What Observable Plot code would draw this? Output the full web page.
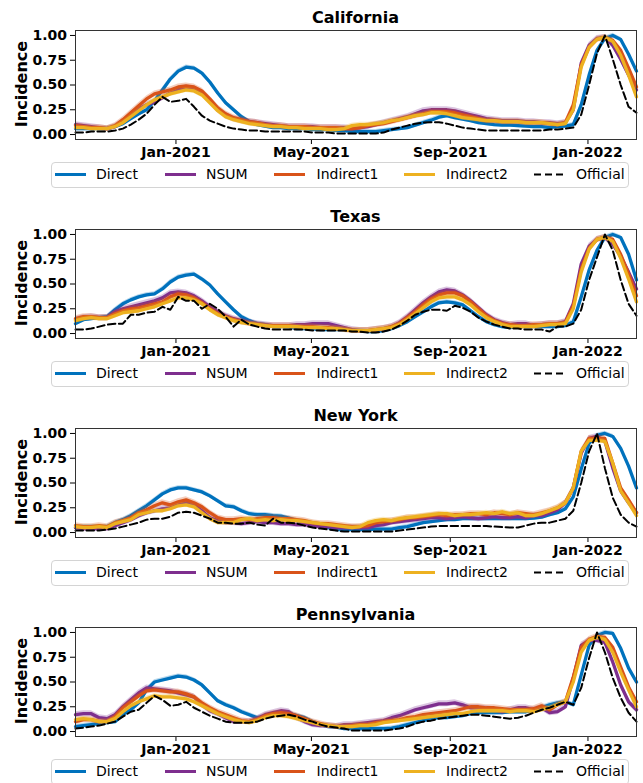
<!DOCTYPE html>
<html><head><meta charset="utf-8">
<script src="https://cdn.jsdelivr.net/npm/d3@7"></script>
<script src="https://cdn.jsdelivr.net/npm/@observablehq/plot@0.6"></script>
<style>
body{margin:0;background:#fff;font-family:"DejaVu Sans",sans-serif;}
#root{position:relative;width:643px;height:783px;overflow:hidden;background:#fff;}
.panel{position:absolute;left:0;width:643px;height:199px;}
.panel svg.plot{position:absolute;left:0;top:0;}
.title{position:absolute;left:75px;width:561px;text-align:center;font-weight:bold;font-size:16px;top:8px;line-height:20px;color:#000;}
.ylab{position:absolute;left:21px;top:84px;font-weight:bold;font-size:16px;color:#000;transform:translate(-50%,-50%) rotate(-90deg);white-space:nowrap;}
.legbox{position:absolute;left:51px;top:162px;width:576px;height:24px;border:1px solid #d4d4d4;border-radius:4px;background:#fff;}
svg.leg{position:absolute;left:0;top:0;}
</style>
</head><body><div id="root"></div>
<script>
// weekly sampling, first week starting 2020-10-04, 72 weeks
const START = "2020-10-04";
const N_WEEKS = 72;
const xTicks = ["2021-01-01","2021-05-01","2021-09-01","2022-01-01"];
const yTicks = [0, 0.25, 0.5, 0.75, 1];
const states = ["California","Texas","New York","Pennsylvania"];
const seriesNames = ["Direct","NSUM","Indirect1","Indirect2","Official"];
const colors = {Direct:"#0072BD", NSUM:"#7E2F8E", Indirect1:"#D95319", Indirect2:"#EDB120", Official:"#000000"};

// California
const CA_direct = [0.06,0.06,0.06,0.06,0.06,0.08,0.11,0.16, 0.21,0.25,0.34,0.45,0.56,0.64,0.68,0.67, 0.62,0.53,0.42,0.32,0.25,0.18,0.13,0.10, 0.085,0.07,0.07,0.06,0.06,0.06,0.05,0.05, 0.05,0.04,0.04,0.03,0.03,0.03,0.03,0.04, 0.05,0.06,0.07,0.095,0.12,0.145,0.175,0.19, 0.17,0.155,0.14,0.12,0.11,0.10,0.095,0.095, 0.09,0.085,0.08,0.08,0.07,0.08,0.085,0.10, 0.30,0.60,0.85,0.97,1.00,0.96,0.81,0.64];
const CA_nsum = [0.10,0.09,0.08,0.07,0.06,0.08,0.13,0.20, 0.26,0.30,0.33,0.37,0.42,0.45,0.47,0.46, 0.42,0.34,0.25,0.19,0.16,0.14,0.13,0.12, 0.11,0.10,0.09,0.08,0.08,0.08,0.08,0.07, 0.07,0.07,0.07,0.06,0.07,0.08,0.10,0.12, 0.14,0.16,0.18,0.21,0.24,0.25,0.25,0.25, 0.24,0.22,0.20,0.18,0.16,0.15,0.14,0.14, 0.14,0.13,0.13,0.12,0.12,0.11,0.12,0.25, 0.72,0.90,0.97,0.98,0.90,0.76,0.60,0.45];
const CA_ind1 = [0.09,0.08,0.07,0.07,0.06,0.09,0.15,0.22, 0.29,0.36,0.41,0.43,0.45,0.48,0.49,0.48, 0.44,0.36,0.27,0.21,0.17,0.15,0.13,0.12, 0.10,0.09,0.09,0.08,0.08,0.08,0.07,0.07, 0.07,0.07,0.06,0.06,0.07,0.09,0.10,0.11, 0.13,0.15,0.17,0.19,0.21,0.23,0.23,0.23, 0.22,0.20,0.18,0.16,0.14,0.14,0.13,0.13, 0.13,0.12,0.12,0.12,0.11,0.10,0.12,0.30, 0.70,0.88,0.96,0.98,0.95,0.85,0.67,0.48];
const CA_ind2 = [0.07,0.07,0.06,0.06,0.06,0.08,0.12,0.18, 0.24,0.30,0.35,0.38,0.41,0.43,0.45,0.44, 0.40,0.32,0.24,0.18,0.15,0.13,0.11,0.10, 0.09,0.08,0.08,0.07,0.07,0.06,0.06,0.06, 0.05,0.05,0.06,0.09,0.10,0.10,0.11,0.12, 0.14,0.15,0.17,0.19,0.20,0.22,0.22,0.21, 0.19,0.17,0.16,0.15,0.14,0.14,0.13,0.13, 0.13,0.12,0.12,0.12,0.11,0.10,0.11,0.25, 0.68,0.88,0.96,0.98,0.94,0.80,0.60,0.38];
const CA_official = [0.02,0.02,0.03,0.03,0.03,0.04,0.06,0.10, 0.15,0.21,0.30,0.38,0.33,0.34,0.36,0.28, 0.19,0.14,0.11,0.08,0.06,0.05,0.04,0.04, 0.03,0.03,0.03,0.03,0.03,0.03,0.02,0.02, 0.02,0.01,0.01,0.01,0.01,0.01,0.01,0.02, 0.05,0.07,0.09,0.11,0.12,0.125,0.125,0.11, 0.09,0.07,0.06,0.05,0.04,0.04,0.04,0.04, 0.04,0.04,0.04,0.04,0.05,0.05,0.06,0.07, 0.20,0.50,0.82,1.00,0.76,0.50,0.28,0.22];

// Texas
const TX_direct = [0.10,0.14,0.15,0.16,0.17,0.24,0.30,0.34, 0.37,0.39,0.40,0.45,0.52,0.57,0.59,0.60, 0.55,0.49,0.40,0.32,0.24,0.17,0.13,0.10, 0.09,0.07,0.07,0.07,0.05,0.05,0.05,0.04, 0.04,0.04,0.04,0.03,0.03,0.02,0.02,0.03, 0.05,0.08,0.12,0.17,0.22,0.27,0.31,0.32, 0.31,0.29,0.23,0.17,0.12,0.09,0.07,0.06, 0.07,0.07,0.07,0.07,0.07,0.07,0.08,0.12, 0.37,0.64,0.84,0.97,1.00,0.97,0.80,0.54];
const TX_nsum = [0.14,0.16,0.17,0.16,0.16,0.22,0.25,0.27, 0.29,0.31,0.33,0.36,0.41,0.42,0.41,0.38, 0.33,0.27,0.22,0.18,0.15,0.13,0.11,0.10, 0.09,0.08,0.08,0.08,0.09,0.09,0.10,0.10, 0.10,0.08,0.06,0.04,0.03,0.03,0.04,0.05, 0.07,0.11,0.17,0.24,0.31,0.37,0.42,0.44, 0.43,0.39,0.33,0.26,0.19,0.14,0.11,0.09, 0.10,0.10,0.08,0.09,0.10,0.10,0.12,0.30, 0.70,0.88,0.95,0.97,0.90,0.78,0.62,0.45];
const TX_ind1 = [0.15,0.17,0.17,0.16,0.16,0.20,0.23,0.25, 0.26,0.28,0.30,0.32,0.37,0.40,0.39,0.36, 0.31,0.25,0.20,0.17,0.14,0.12,0.10,0.09, 0.08,0.08,0.08,0.08,0.07,0.07,0.07,0.06, 0.06,0.05,0.04,0.03,0.03,0.03,0.04,0.05, 0.07,0.10,0.16,0.22,0.29,0.35,0.39,0.41, 0.41,0.38,0.32,0.25,0.18,0.13,0.10,0.09, 0.08,0.08,0.09,0.09,0.10,0.10,0.11,0.28, 0.65,0.86,0.95,0.97,0.95,0.80,0.60,0.38];
const TX_ind2 = [0.13,0.15,0.16,0.15,0.15,0.18,0.21,0.22, 0.23,0.25,0.27,0.30,0.33,0.36,0.36,0.34, 0.30,0.24,0.19,0.16,0.13,0.11,0.10,0.09, 0.08,0.07,0.07,0.07,0.07,0.06,0.06,0.06, 0.05,0.05,0.04,0.03,0.03,0.03,0.04,0.05, 0.06,0.09,0.14,0.20,0.26,0.32,0.36,0.37, 0.37,0.34,0.29,0.22,0.16,0.12,0.09,0.07, 0.07,0.07,0.07,0.08,0.09,0.09,0.10,0.25, 0.62,0.85,0.95,0.97,0.93,0.76,0.55,0.32];
const TX_official = [0.04,0.04,0.05,0.07,0.09,0.10,0.10,0.19, 0.19,0.21,0.22,0.27,0.24,0.37,0.33,0.33, 0.25,0.30,0.25,0.17,0.07,0.14,0.09,0.07, 0.05,0.04,0.04,0.04,0.04,0.04,0.03,0.03, 0.03,0.03,0.03,0.02,0.02,0.01,0.01,0.02, 0.04,0.08,0.13,0.19,0.22,0.24,0.24,0.23, 0.28,0.26,0.22,0.16,0.12,0.09,0.07,0.05, 0.05,0.04,0.04,0.04,0.02,0.07,0.07,0.10, 0.24,0.54,0.77,1.00,0.84,0.54,0.30,0.18];

// New York
const NY_direct = [0.05,0.06,0.06,0.06,0.06,0.10,0.13,0.17, 0.22,0.27,0.33,0.39,0.43,0.45,0.45,0.43, 0.41,0.37,0.32,0.27,0.26,0.22,0.19,0.18, 0.18,0.17,0.165,0.145,0.12,0.10,0.08,0.065, 0.05,0.03,0.03,0.03,0.03,0.03,0.035,0.035, 0.035,0.05,0.06,0.08,0.10,0.11,0.12,0.13, 0.13,0.14,0.14,0.14,0.14,0.14,0.14,0.14, 0.14,0.14,0.145,0.155,0.18,0.20,0.24,0.36, 0.64,0.90,0.98,1.00,0.97,0.85,0.67,0.45];
const NY_nsum = [0.05,0.04,0.04,0.04,0.04,0.07,0.10,0.13, 0.17,0.20,0.22,0.24,0.25,0.28,0.30,0.28, 0.22,0.15,0.12,0.10,0.10,0.09,0.10,0.11, 0.10,0.10,0.09,0.09,0.08,0.08,0.07,0.06, 0.06,0.05,0.05,0.05,0.05,0.05,0.07,0.08, 0.10,0.11,0.12,0.13,0.14,0.15,0.15,0.14, 0.15,0.16,0.15,0.14,0.15,0.16,0.15,0.15, 0.16,0.15,0.17,0.17,0.20,0.23,0.30,0.45, 0.80,0.95,0.97,0.92,0.65,0.42,0.30,0.20];
const NY_ind1 = [0.07,0.06,0.06,0.07,0.06,0.10,0.12,0.15, 0.20,0.23,0.27,0.30,0.28,0.31,0.33,0.30, 0.26,0.20,0.15,0.13,0.13,0.14,0.13,0.14, 0.15,0.15,0.14,0.14,0.13,0.12,0.10,0.09, 0.09,0.08,0.07,0.06,0.06,0.07,0.10,0.11, 0.12,0.13,0.15,0.15,0.16,0.17,0.18,0.17, 0.18,0.18,0.19,0.19,0.18,0.20,0.19,0.18, 0.20,0.19,0.18,0.20,0.22,0.25,0.30,0.45, 0.82,0.95,0.95,0.95,0.70,0.45,0.33,0.20];
const NY_ind2 = [0.06,0.05,0.05,0.06,0.05,0.09,0.11,0.13, 0.18,0.20,0.22,0.22,0.24,0.27,0.28,0.26, 0.20,0.14,0.10,0.10,0.10,0.13,0.14,0.12, 0.13,0.12,0.13,0.12,0.12,0.11,0.10,0.09, 0.08,0.07,0.06,0.05,0.06,0.10,0.12,0.13, 0.12,0.14,0.15,0.16,0.17,0.18,0.19,0.19, 0.17,0.18,0.18,0.19,0.20,0.19,0.21,0.19, 0.20,0.17,0.17,0.19,0.22,0.25,0.30,0.45, 0.82,0.93,0.93,0.92,0.70,0.42,0.30,0.17];
const NY_official = [0.02,0.02,0.02,0.02,0.03,0.04,0.06,0.08, 0.10,0.13,0.14,0.14,0.16,0.20,0.21,0.20, 0.17,0.14,0.10,0.10,0.09,0.09,0.10,0.08, 0.07,0.14,0.10,0.10,0.09,0.07,0.05,0.04, 0.03,0.02,0.01,0.01,0.01,0.01,0.01,0.01, 0.01,0.02,0.03,0.04,0.05,0.06,0.065,0.065, 0.065,0.065,0.065,0.065,0.065,0.06,0.055,0.05, 0.05,0.07,0.09,0.10,0.10,0.12,0.14,0.22, 0.50,0.82,1.00,0.65,0.35,0.18,0.10,0.06];

// Pennsylvania
const PA_direct = [0.05,0.06,0.07,0.08,0.09,0.10,0.17,0.22, 0.29,0.42,0.50,0.52,0.54,0.56,0.55,0.52, 0.47,0.39,0.31,0.27,0.24,0.20,0.17,0.14, 0.15,0.16,0.17,0.18,0.16,0.14,0.10,0.07, 0.05,0.045,0.03,0.03,0.03,0.03,0.03,0.03, 0.035,0.05,0.07,0.09,0.11,0.13,0.14,0.14, 0.15,0.16,0.18,0.19,0.19,0.19,0.19,0.20, 0.20,0.20,0.21,0.24,0.27,0.29,0.30,0.27, 0.57,0.87,0.97,1.00,0.99,0.84,0.64,0.50];
const PA_nsum = [0.17,0.18,0.18,0.14,0.13,0.17,0.25,0.32, 0.39,0.44,0.43,0.42,0.41,0.39,0.37,0.35, 0.27,0.21,0.18,0.14,0.10,0.10,0.10,0.13, 0.17,0.19,0.21,0.20,0.14,0.10,0.07,0.06, 0.06,0.05,0.07,0.07,0.08,0.09,0.10,0.11, 0.14,0.16,0.19,0.22,0.24,0.26,0.28,0.28, 0.29,0.27,0.24,0.24,0.23,0.22,0.20,0.22, 0.24,0.24,0.22,0.24,0.19,0.20,0.25,0.54, 0.87,0.92,0.92,0.90,0.70,0.47,0.30,0.22];
const PA_ind1 = [0.10,0.12,0.12,0.10,0.10,0.15,0.24,0.30, 0.36,0.41,0.42,0.41,0.40,0.40,0.38,0.35, 0.29,0.24,0.20,0.17,0.14,0.11,0.10,0.12, 0.16,0.18,0.19,0.18,0.16,0.13,0.10,0.08, 0.06,0.05,0.05,0.06,0.07,0.07,0.09,0.10, 0.11,0.12,0.14,0.15,0.17,0.18,0.19,0.20, 0.21,0.23,0.25,0.25,0.24,0.24,0.23,0.22, 0.22,0.22,0.23,0.26,0.22,0.27,0.30,0.55, 0.85,0.93,0.96,0.95,0.85,0.65,0.45,0.30];
const PA_ind2 = [0.12,0.13,0.12,0.10,0.10,0.13,0.20,0.26, 0.30,0.33,0.36,0.35,0.35,0.34,0.33,0.30, 0.26,0.22,0.18,0.15,0.12,0.10,0.09,0.11, 0.14,0.16,0.16,0.15,0.13,0.11,0.09,0.07, 0.06,0.05,0.05,0.05,0.06,0.06,0.07,0.09, 0.10,0.11,0.12,0.13,0.14,0.15,0.16,0.17, 0.18,0.18,0.20,0.21,0.21,0.21,0.21,0.20, 0.21,0.21,0.20,0.22,0.24,0.27,0.30,0.50, 0.80,0.92,0.95,0.93,0.80,0.60,0.42,0.25];
const PA_official = [0.03,0.04,0.05,0.06,0.08,0.10,0.15,0.20, 0.22,0.29,0.36,0.32,0.26,0.27,0.30,0.24, 0.20,0.16,0.13,0.10,0.09,0.09,0.09,0.10, 0.13,0.15,0.16,0.17,0.15,0.12,0.10,0.07, 0.05,0.04,0.03,0.01,0.01,0.01,0.01,0.01, 0.02,0.03,0.05,0.08,0.10,0.11,0.13,0.14, 0.15,0.16,0.17,0.17,0.16,0.15,0.14,0.13, 0.14,0.16,0.19,0.22,0.24,0.27,0.30,0.27, 0.44,0.74,1.00,0.80,0.54,0.34,0.19,0.10];

// half-width of the shaded uncertainty band per estimator
const bandHalf = {Direct:0.022, NSUM:0.03, Indirect1:0.03, Indirect2:0.025};

const stateSeries = {
  "California": {Direct:CA_direct, NSUM:CA_nsum, Indirect1:CA_ind1, Indirect2:CA_ind2, Official:CA_official},
  "Texas": {Direct:TX_direct, NSUM:TX_nsum, Indirect1:TX_ind1, Indirect2:TX_ind2, Official:TX_official},
  "New York": {Direct:NY_direct, NSUM:NY_nsum, Indirect1:NY_ind1, Indirect2:NY_ind2, Official:NY_official},
  "Pennsylvania": {Direct:PA_direct, NSUM:PA_nsum, Indirect1:PA_ind1, Indirect2:PA_ind2, Official:PA_official}
};

const start = d3.utcParse("%Y-%m-%d")(START);
const dates = d3.range(N_WEEKS).map(i => d3.utcDay.offset(start, 7 * i));
const parse = d3.utcParse("%Y-%m-%d");
const PANEL_STEP = 199.1;
const root = document.getElementById("root");

states.forEach((st, k) => {
  const panel = document.createElement("div");
  panel.className = "panel";
  panel.style.top = (k * PANEL_STEP) + "px";
  root.appendChild(panel);

  const ser = stateSeries[st];
  const marks = [];
  for (const name of seriesNames) {
    const vals = ser[name];
    const rows = vals.map((v, i) => ({date: dates[i], v, lo: v - (bandHalf[name] || 0), hi: v + (bandHalf[name] || 0)}));
    if (name !== "Official") {
      marks.push(Plot.areaY(rows, {x: "date", y1: "lo", y2: "hi", fill: colors[name], fillOpacity: 0.28}));
      marks.push(Plot.lineY(rows, {x: "date", y: "v", stroke: colors[name], strokeWidth: 3.3, strokeLinejoin: "round"}));
    } else {
      marks.push(Plot.lineY(rows, {x: "date", y: "v", stroke: "#000", strokeWidth: 2, strokeDasharray: "7.5,3.5"}));
    }
  }
  marks.push(Plot.frame({stroke: "#333", strokeWidth: 1}));

  const svg = Plot.plot({
    width: 643, height: 160,
    marginLeft: 75, marginRight: 7, marginTop: 30, marginBottom: 21,
    style: {fontFamily: "DejaVu Sans", fontSize: "14px", fontWeight: "bold", color: "#000", background: "transparent"},
    x: {type: "utc", domain: [start, dates[N_WEEKS - 1]], ticks: xTicks.map(parse), tickFormat: d3.utcFormat("%b-%Y"), tickSize: 5, tickPadding: 3, label: null},
    y: {domain: [-0.05, 1.05], ticks: yTicks, tickFormat: d3.format(".2f"), tickSize: 5, tickPadding: 3.5, label: null},
    marks
  });
  svg.classList.add("plot");
  panel.appendChild(svg);

  const title = document.createElement("div");
  title.className = "title";
  title.textContent = st;
  panel.appendChild(title);

  const ylab = document.createElement("div");
  ylab.className = "ylab";
  ylab.textContent = "Incidence";
  panel.appendChild(ylab);

  const box = document.createElement("div");
  box.className = "legbox";
  panel.appendChild(box);

  // legend handles
  const leg = d3.create("svg").attr("class", "leg").attr("width", 643).attr("height", 199)
    .style("position", "absolute").style("left", 0).style("top", 0);
  const items = [
    {name: "Direct", x0: 55, tx: 96},
    {name: "NSUM", x0: 165, tx: 206},
    {name: "Indirect1", x0: 274, tx: 316.5},
    {name: "Indirect2", x0: 404, tx: 446},
    {name: "Official", x0: 534, tx: 576}
  ];
  const cy = 174.5;
  for (const it of items) {
    if (it.name !== "Official") {
      leg.append("line").attr("x1", it.x0).attr("x2", it.x0 + 31).attr("y1", cy).attr("y2", cy)
        .attr("stroke", colors[it.name]).attr("stroke-width", 3);
    } else {
      leg.append("line").attr("x1", it.x0).attr("x2", it.x0 + 29).attr("y1", cy).attr("y2", cy)
        .attr("stroke", "#000").attr("stroke-width", 2).attr("stroke-dasharray", "7,4");
    }
    leg.append("text").attr("x", it.tx).attr("y", cy).attr("dy", "0.35em")
      .attr("font-family", "DejaVu Sans").attr("font-size", 14).attr("fill", "#000").text(it.name);
  }
  panel.appendChild(leg.node());
});
</script>
</body></html>
